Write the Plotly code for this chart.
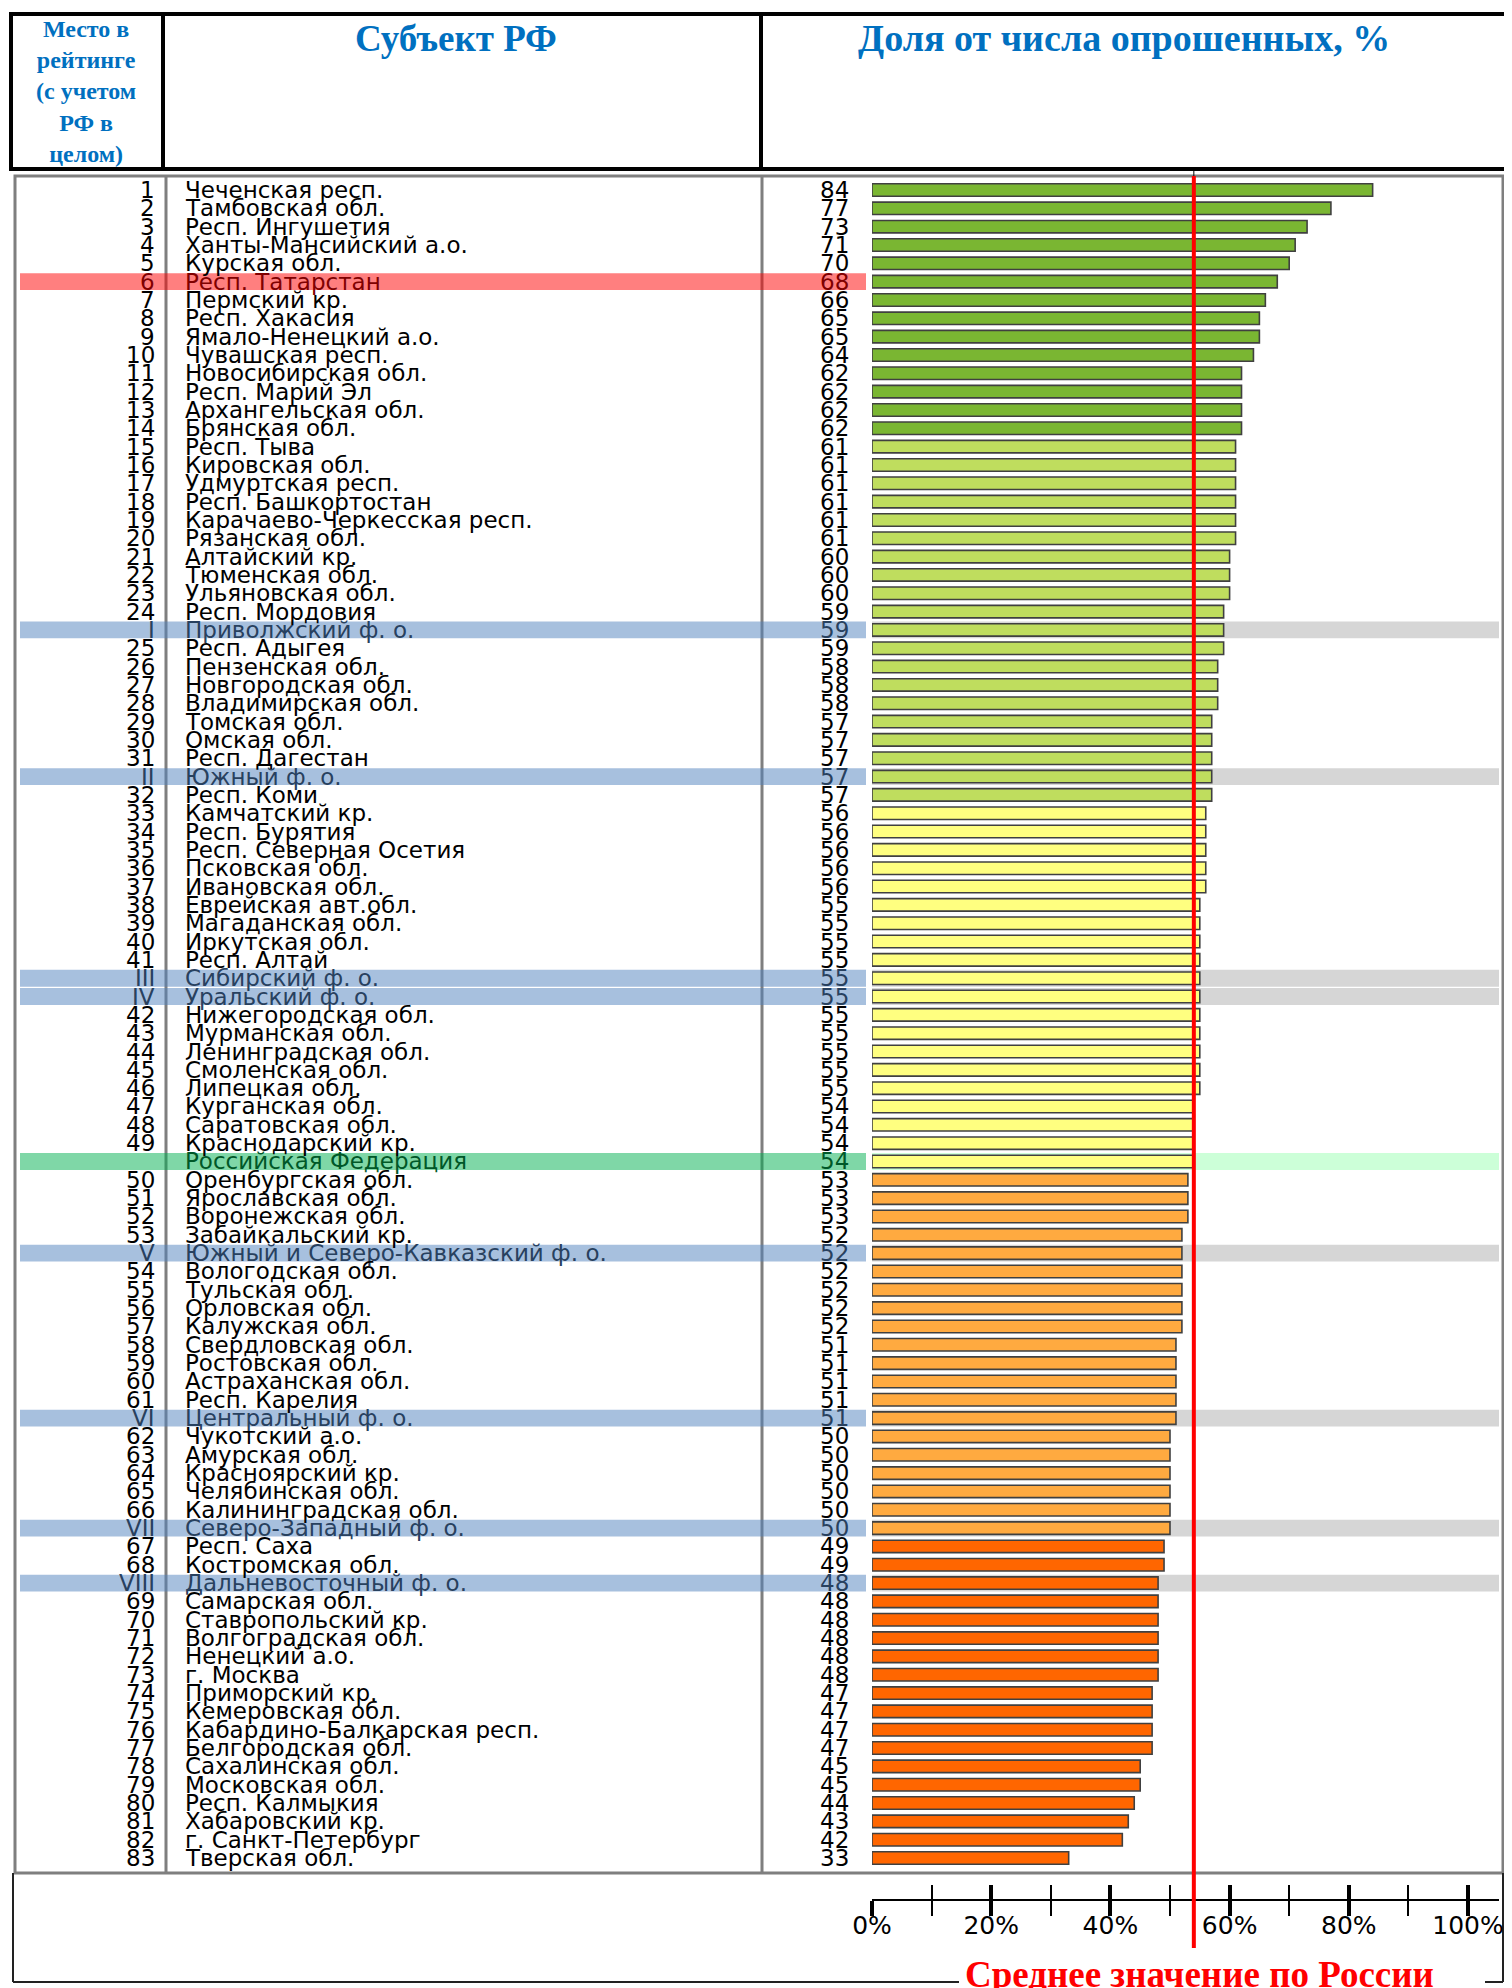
import plotly.graph_objects as go

# ---------------- DATA ----------------
ranks = ["1", "2", "3", "4", "5", "6", "7", "8", "9", "10",
         "11", "12", "13", "14", "15", "16", "17", "18", "19", "20",
         "21", "22", "23", "24", "I", "25", "26", "27", "28", "29",
         "30", "31", "II", "32", "33", "34", "35", "36", "37", "38",
         "39", "40", "41", "III", "IV", "42", "43", "44", "45", "46",
         "47", "48", "49", "", "50", "51", "52", "53", "V", "54",
         "55", "56", "57", "58", "59", "60", "61", "VI", "62", "63",
         "64", "65", "66", "VII", "67", "68", "VIII", "69", "70", "71",
         "72", "73", "74", "75", "76", "77", "78", "79", "80", "81",
         "82", "83"]

names = ["Чеченская респ.", "Тамбовская обл.", "Респ. Ингушетия", "Ханты-Мансийский а.о.",
         "Курская обл.", "Респ. Татарстан", "Пермский кр.", "Респ. Хакасия",
         "Ямало-Ненецкий а.о.", "Чувашская респ.", "Новосибирская обл.", "Респ. Марий Эл",
         "Архангельская обл.", "Брянская обл.", "Респ. Тыва", "Кировская обл.",
         "Удмуртская респ.", "Респ. Башкортостан", "Карачаево-Черкесская респ.", "Рязанская обл.",
         "Алтайский кр.", "Тюменская обл.", "Ульяновская обл.", "Респ. Мордовия",
         "Приволжский ф. о.", "Респ. Адыгея", "Пензенская обл.", "Новгородская обл.",
         "Владимирская обл.", "Томская обл.", "Омская обл.", "Респ. Дагестан",
         "Южный ф. о.", "Респ. Коми", "Камчатский кр.", "Респ. Бурятия",
         "Респ. Северная Осетия", "Псковская обл.", "Ивановская обл.", "Еврейская авт.обл.",
         "Магаданская обл.", "Иркутская обл.", "Респ. Алтай", "Сибирский ф. о.",
         "Уральский ф. о.", "Нижегородская обл.", "Мурманская обл.", "Ленинградская обл.",
         "Смоленская обл.", "Липецкая обл.", "Курганская обл.", "Саратовская обл.",
         "Краснодарский кр.", "Российская Федерация", "Оренбургская обл.", "Ярославская обл.",
         "Воронежская обл.", "Забайкальский кр.", "Южный и Северо-Кавказский ф. о.", "Вологодская обл.",
         "Тульская обл.", "Орловская обл.", "Калужская обл.", "Свердловская обл.",
         "Ростовская обл.", "Астраханская обл.", "Респ. Карелия", "Центральный ф. о.",
         "Чукотский а.о.", "Амурская обл.", "Красноярский кр.", "Челябинская обл.",
         "Калининградская обл.", "Северо-Западный ф. о.", "Респ. Саха", "Костромская обл.",
         "Дальневосточный ф. о.", "Самарская обл.", "Ставропольский кр.", "Волгоградская обл.",
         "Ненецкий а.о.", "г. Москва", "Приморский кр.", "Кемеровская обл.",
         "Кабардино-Балкарская респ.", "Белгородская обл.", "Сахалинская обл.", "Московская обл.",
         "Респ. Калмыкия", "Хабаровский кр.", "г. Санкт-Петербург", "Тверская обл."]

values = [84, 77, 73, 71, 70, 68, 66, 65, 65, 64,
          62, 62, 62, 62, 61, 61, 61, 61, 61, 61,
          60, 60, 60, 59, 59, 59, 58, 58, 58, 57,
          57, 57, 57, 57, 56, 56, 56, 56, 56, 55,
          55, 55, 55, 55, 55, 55, 55, 55, 55, 55,
          54, 54, 54, 54, 53, 53, 53, 52, 52, 52,
          52, 52, 52, 51, 51, 51, 51, 51, 50, 50,
          50, 50, 50, 50, 49, 49, 48, 48, 48, 48,
          48, 48, 47, 47, 47, 47, 45, 45, 44, 43,
          42, 33]

# row kind: r = region, h = highlighted region, d = federal district, rf = Russia total
kinds = ["r"] * len(names)
kinds[names.index("Респ. Татарстан")] = "h"
for _i, _r in enumerate(ranks):
    if _r in ("I", "II", "III", "IV", "V", "VI", "VII", "VIII"):
        kinds[_i] = "d"
kinds[names.index("Российская Федерация")] = "rf"

russia_avg = values[names.index("Российская Федерация")]
tick_values = [0, 20, 40, 60, 80, 100]
minor_tick_values = [10, 30, 50, 70, 90]

# ---------------- LAYOUT HELPERS ----------------
W, H = 1512, 1988
OFF = 8  # page body margin


def px(p):
    return (p - OFF) / W


def py(p):
    return 1 - (p - OFF) / H


n = len(names)
PITCH = 18.33
ROW0 = 190.0
y_top = ROW0 - PITCH / 2
y_bot = ROW0 + (n - 1) * PITCH + PITCH / 2

X0, X100, XEND = 872, 1468, 1499
xmax = 100 * (XEND - X0) / (X100 - X0)
AXIS_Y = 1900


def bar_color(v):
    if v >= 62:
        return "#7AB632"
    if v >= 57:
        return "#BFDD5E"
    if v >= 54:
        return "#FFFF80"
    if v >= 50:
        return "#FFAA40"
    return "#FF6600"


text_color = {"r": "#000000", "h": "#800000", "d": "#28415F", "rf": "#005828"}
left_band = {"h": "rgba(255,0,0,0.5)", "d": "rgba(79,129,189,0.5)", "rf": "rgba(0,176,80,0.5)"}
right_band = {"d": "#D6D6D6", "rf": "#CCFFD8"}

fig = go.Figure()

fig.add_trace(go.Bar(
    x=values, y=names, orientation="h",
    marker=dict(color=[bar_color(v) for v in values],
                line=dict(color="#404040", width=1.6)),
    width=0.68, hoverinfo="x+y", showlegend=False,
))
# helper trace so the overlaid tick axis is rendered
fig.add_trace(go.Scatter(
    x=values, y=names, xaxis="x2", mode="markers",
    marker=dict(size=1, opacity=0), hoverinfo="skip", showlegend=False,
))

shapes = []
ann = []

# body frame and dividers
FRAME = "#7F7F7F"
shapes.append(dict(type="rect", xref="paper", yref="paper",
                   x0=px(15), x1=px(1503), y0=py(1873), y1=py(176),
                   line=dict(color=FRAME, width=3), layer="below"))
for xd in (166, 762):
    shapes.append(dict(type="line", xref="paper", yref="paper",
                       x0=px(xd), x1=px(xd), y0=py(1873), y1=py(176),
                       line=dict(color=FRAME, width=3), layer="below"))

# header frame
shapes.append(dict(type="rect", xref="paper", yref="paper",
                   x0=px(11), x1=px(1506), y0=py(169), y1=py(14),
                   line=dict(color="#000000", width=4), layer="below"))
for xd in (163, 761):
    shapes.append(dict(type="line", xref="paper", yref="paper",
                       x0=px(xd), x1=px(xd), y0=py(169), y1=py(14),
                       line=dict(color="#000000", width=4), layer="below"))

# bottom box
BOT = "#222222"
for (xa, ya, xb, yb) in [(13, 1873, 13, 1982), (13, 1982, 959, 1982),
                         (1485, 1982, 1503, 1982), (1503, 1873, 1503, 1982)]:
    shapes.append(dict(type="line", xref="paper", yref="paper",
                       x0=px(xa), x1=px(xb), y0=py(ya), y1=py(yb),
                       line=dict(color=BOT, width=2), layer="below"))

# highlight bands
for i, k in enumerate(kinds):
    if k in left_band:
        shapes.append(dict(type="rect", xref="paper", yref="y",
                           x0=px(20), x1=px(866), y0=i - 0.46, y1=i + 0.46,
                           fillcolor=left_band[k], line=dict(width=0), layer="below"))
    if k in right_band:
        shapes.append(dict(type="rect", xref="x", yref="y",
                           x0=0, x1=xmax, y0=i - 0.46, y1=i + 0.46,
                           fillcolor=right_band[k], line=dict(width=0), layer="below"))

# Russia average line
shapes.append(dict(type="line", xref="x", yref="paper",
                   x0=russia_avg, x1=russia_avg, y0=py(1948), y1=py(176),
                   line=dict(color="#FF0000", width=4), layer="above"))
shapes.append(dict(type="line", xref="x", yref="paper",
                   x0=russia_avg, x1=russia_avg, y0=py(176), y1=py(169),
                   line=dict(color="#000000", width=1), layer="above"))

# row texts
ROWFONT = "DejaVu Sans"
for i in range(n):
    c = text_color[kinds[i]]
    f = dict(family=ROWFONT, size=23, color=c)
    ann.append(dict(x=px(157), y=names[i], xref="paper", yref="y", text=ranks[i],
                    xanchor="right", yanchor="middle", showarrow=False, font=f))
    ann.append(dict(x=px(183), y=names[i], xref="paper", yref="y", text=names[i],
                    xanchor="left", yanchor="middle", showarrow=False, font=f))
    ann.append(dict(x=px(851), y=names[i], xref="paper", yref="y", text=str(values[i]),
                    xanchor="right", yanchor="middle", showarrow=False, font=f))

# headers
HFONT = "Liberation Serif"
BLUE = "#0070C0"
ann.append(dict(x=px(86), y=py(92), xref="paper", yref="paper",
                text="<b>Место в<br>рейтинге<br>(с учетом<br>РФ в<br>целом)</b>",
                xanchor="center", yanchor="middle", showarrow=False, align="center",
                font=dict(family=HFONT, size=24, color=BLUE)))
ann.append(dict(x=px(456), y=py(38), xref="paper", yref="paper",
                text="<b>Субъект РФ</b>", xanchor="center", yanchor="middle",
                showarrow=False, font=dict(family=HFONT, size=37, color=BLUE)))
ann.append(dict(x=px(1124), y=py(38), xref="paper", yref="paper",
                text="<b>Доля от числа опрошенных, %</b>", xanchor="center", yanchor="middle",
                showarrow=False, font=dict(family=HFONT, size=38, color=BLUE)))
ann.append(dict(x=px(1199), y=py(1974), xref="paper", yref="paper",
                text="<b>Среднее значение по России</b>", xanchor="center", yanchor="middle",
                showarrow=False, font=dict(family=HFONT, size=37, color="#FF0000")))

axis_common = dict(
    range=[0, xmax], domain=[px(X0), px(XEND)], anchor="free", position=py(AXIS_Y),
    showgrid=False, zeroline=False, tickmode="array", tickvals=tick_values,
    tickcolor="#000000", fixedrange=True, automargin=False,
)

fig.update_layout(
    width=W, height=H,
    margin=dict(l=0, r=0, t=0, b=0, autoexpand=False),
    paper_bgcolor="white", plot_bgcolor="rgba(0,0,0,0)",
    bargap=0.3,
    xaxis=dict(**axis_common, ticks="outside", ticklen=15, tickwidth=4,
               showline=True, linecolor="#000000", linewidth=2,
               ticktext=[f"{v}%" for v in tick_values], ticklabelstandoff=-12,
               tickfont=dict(family=ROWFONT, size=25, color="#000000"),
               minor=dict(tickmode="array", tickvals=minor_tick_values, ticks="outside",
                          ticklen=15, tickwidth=1.5, tickcolor="#000000")),
    xaxis2=dict(**axis_common, overlaying="x", ticks="inside", ticklen=15, tickwidth=4,
                showline=False, showticklabels=False,
                minor=dict(tickmode="array", tickvals=minor_tick_values, ticks="inside",
                           ticklen=15, tickwidth=1.5, tickcolor="#000000")),
    yaxis=dict(type="category", categoryorder="array", categoryarray=names,
               range=[n - 0.5, -0.5], domain=[py(y_bot), py(y_top)],
               visible=False, fixedrange=True, automargin=False),
    shapes=shapes,
    annotations=ann,
)

fig.write_html("out.html")
